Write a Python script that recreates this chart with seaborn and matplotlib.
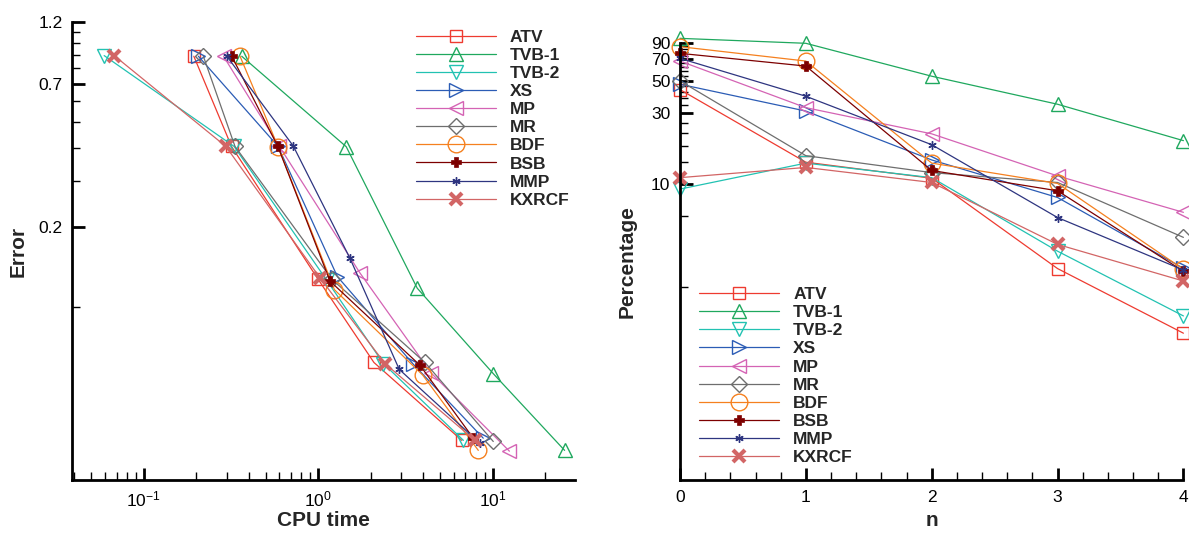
import matplotlib
matplotlib.use("Agg")
import matplotlib.pyplot as plt
import matplotlib.ticker as mticker
import pandas as pd
import seaborn as sns

# methods and styles
methods = ["ATV", "TVB-1", "TVB-2", "XS", "MP", "MR", "BDF", "BSB", "MMP", "KXRCF"]
colors = ["#ee3b30", "#1fa85e", "#22c2b2", "#2b5cb5", "#d463b4", "#6e6e6e",
          "#f5801f", "#7d0000", "#2e3580", "#d26565"]

# left panel: CPU time vs error (5 refinement levels)
cpu_time = {
    "ATV":   [0.194, 0.319, 1.00, 2.09, 6.67],
    "TVB-1": [0.365, 1.45, 3.70, 10.1, 25.9],
    "TVB-2": [0.0594, 0.330, 1.12, 2.37, 6.81],
    "XS":    [0.206, 0.590, 1.29, 3.52, 8.85],
    "MP":    [0.287, 0.600, 1.74, 4.45, 12.5],
    "MR":    [0.220, 0.334, 1.20, 4.10, 10.1],
    "BDF":   [0.357, 0.590, 1.24, 3.98, 8.29],
    "BSB":   [0.320, 0.588, 1.17, 3.84, 7.76],
    "MMP":   [0.300, 0.720, 1.52, 2.92, 8.48],
    "KXRCF": [0.0678, 0.296, 1.03, 2.42, 7.94],
}
error = {
    "ATV":   [0.890, 0.405, 0.127, 0.0614, 0.0311],
    "TVB-1": [0.890, 0.404, 0.1175, 0.0557, 0.0285],
    "TVB-2": [0.895, 0.405, 0.126, 0.0608, 0.0311],
    "XS":    [0.890, 0.405, 0.130, 0.0604, 0.0317],
    "MP":    [0.890, 0.405, 0.134, 0.0560, 0.0283],
    "MR":    [0.890, 0.405, 0.127, 0.0614, 0.0308],
    "BDF":   [0.890, 0.404, 0.116, 0.0550, 0.0285],
    "BSB":   [0.890, 0.405, 0.125, 0.0599, 0.0317],
    "MMP":   [0.890, 0.407, 0.153, 0.0578, 0.0303],
    "KXRCF": [0.895, 0.405, 0.128, 0.0608, 0.0311],
}

# right panel: percentage vs n
n_vals = [0, 1, 2, 3, 4]
percentage = {
    "ATV":   [43.5, 14.0, 10.9, 2.66, 0.97],
    "TVB-1": [96.8, 89.6, 53.6, 34.6, 19.6],
    "TVB-2": [9.2, 13.8, 11.0, 3.49, 1.27],
    "XS":    [47.3, 31.1, 14.5, 8.07, 2.67],
    "MP":    [67.9, 32.8, 21.8, 11.3, 6.4],
    "MR":    [49.8, 15.5, 11.9, 10.2, 4.33],
    "BDF":   [85.0, 67.9, 13.8, 10.05, 2.63],
    "BSB":   [76.6, 62.8, 12.3, 8.96, 2.55],
    "MMP":   [70.8, 39.2, 18.4, 5.9, 2.6],
    "KXRCF": [11.0, 12.9, 10.2, 3.88, 2.19],
}

# tick values
err_ticks = [0.2, 0.7, 1.2]
err_minor = [0.1, 0.3, 0.4, 0.5, 0.6, 0.8, 0.9, 1.0, 1.1]
pct_ticks = [10, 30, 50, 70, 90]
pct_minor = [2, 6, 14, 18, 22, 26, 34, 38, 42, 46, 54, 58, 62, 66, 74, 78, 82, 86]

# marker styles: (marker, size, filled, edge width)
marker_styles = {
    "ATV":   ("s", 8.5, False, 1.0),
    "TVB-1": ("^", 10, False, 1.0),
    "TVB-2": ("v", 10, False, 1.0),
    "XS":    (">", 10, False, 1.0),
    "MP":    ("<", 10, False, 1.0),
    "MR":    ("D", 8.0, False, 1.0),
    "BDF":   ("o", 12, False, 1.0),
    "BSB":   ("P", 7.5, True, 0.5),
    "MMP":   ((6, 2, 0), 6, False, 1.0),
    "KXRCF": ("x", 9, False, 3.0),
}

rows = []
for m in methods:
    for i in range(5):
        rows.append({"method": m, "cpu": cpu_time[m][i], "err": error[m][i],
                     "n": n_vals[i], "pct": percentage[m][i]})
df = pd.DataFrame(rows)

sns.set_theme(style="ticks")
plt.rcParams["font.family"] = ["Liberation Sans", "DejaVu Sans"]
plt.rcParams["mathtext.default"] = "regular"

fig = plt.figure(figsize=(11.89, 5.33), dpi=100)
ax1 = fig.add_axes([0.0608, 0.0994, 0.4230, 0.8593])
ax2 = fig.add_axes([0.5719, 0.0994, 0.4234, 0.8199])


def draw(ax, xcol, ycol):
    for m, c in zip(methods, colors):
        mk, ms, filled, mew = marker_styles[m]
        sub = df[df["method"] == m]
        sns.lineplot(data=sub, x=xcol, y=ycol, ax=ax, color=c, lw=0.9,
                     marker=mk, markersize=ms, markeredgecolor=c,
                     markeredgewidth=mew,
                     markerfacecolor=c if filled else "none",
                     estimator=None, sort=False, label=m, clip_on=False)


def style_axes(ax):
    for s in ["top", "right"]:
        ax.spines[s].set_visible(False)
    for s in ["left", "bottom"]:
        ax.spines[s].set_linewidth(2)
        ax.spines[s].set_color("black")
    ax.tick_params(which="major", direction="in", length=9, width=2,
                   labelsize=12.5, pad=7, colors="black")
    ax.tick_params(which="minor", direction="in", length=5.5, width=1,
                   colors="black")


# left panel
draw(ax1, "cpu", "err")
ax1.set_xscale("log")
ax1.set_yscale("log")
ax1.set_xlim(0.039, 29.8)
ax1.set_ylim(0.022, 1.2)
ax1.xaxis.set_major_locator(mticker.LogLocator(base=10))
ax1.xaxis.set_minor_locator(mticker.LogLocator(base=10, subs=range(2, 10)))
ax1.xaxis.set_minor_formatter(mticker.NullFormatter())
ax1.yaxis.set_major_locator(mticker.FixedLocator(err_ticks))
ax1.yaxis.set_major_formatter(mticker.FormatStrFormatter("%.1f"))
ax1.yaxis.set_minor_locator(mticker.FixedLocator(err_minor))
ax1.yaxis.set_minor_formatter(mticker.NullFormatter())
style_axes(ax1)
ax1.set_xlabel("CPU time", fontsize=15, fontweight="bold")
ax1.set_ylabel("Error", fontsize=15, fontweight="bold")
ax1.xaxis.set_label_coords(0.5, -0.068)
ax1.yaxis.set_label_coords(-0.089, 0.5)

# right panel
draw(ax2, "n", "pct")
ax2.set_yscale("log")
ax2.set_xlim(0, 4)
ax2.set_ylim(0.098, 90)
ax2.xaxis.set_major_locator(mticker.MultipleLocator(1))
ax2.xaxis.set_minor_locator(mticker.MultipleLocator(0.2))
ax2.yaxis.set_major_locator(mticker.FixedLocator(pct_ticks))
ax2.yaxis.set_major_formatter(mticker.FormatStrFormatter("%d"))
ax2.yaxis.set_minor_locator(mticker.FixedLocator(pct_minor))
ax2.yaxis.set_minor_formatter(mticker.NullFormatter())
style_axes(ax2)
ax2.set_xlabel("n", fontsize=15, fontweight="bold")
ax2.set_ylabel("Percentage", fontsize=15, fontweight="bold")
ax2.xaxis.set_label_coords(0.5, -0.072)
ax2.yaxis.set_label_coords(-0.087, 0.5)

legend_kw = dict(loc="upper left", frameon=False, borderpad=0, borderaxespad=0,
                 handlelength=4.6, handletextpad=0.8, labelspacing=0.17,
                 prop={"weight": "bold", "size": 12.5},
                 bbox_transform=fig.transFigure)
ax1.legend(bbox_to_anchor=(0.3499, 0.9444), **legend_kw)
ax2.legend(bbox_to_anchor=(0.5883, 0.4615), **legend_kw)

fig.savefig("out.png", dpi=100)
